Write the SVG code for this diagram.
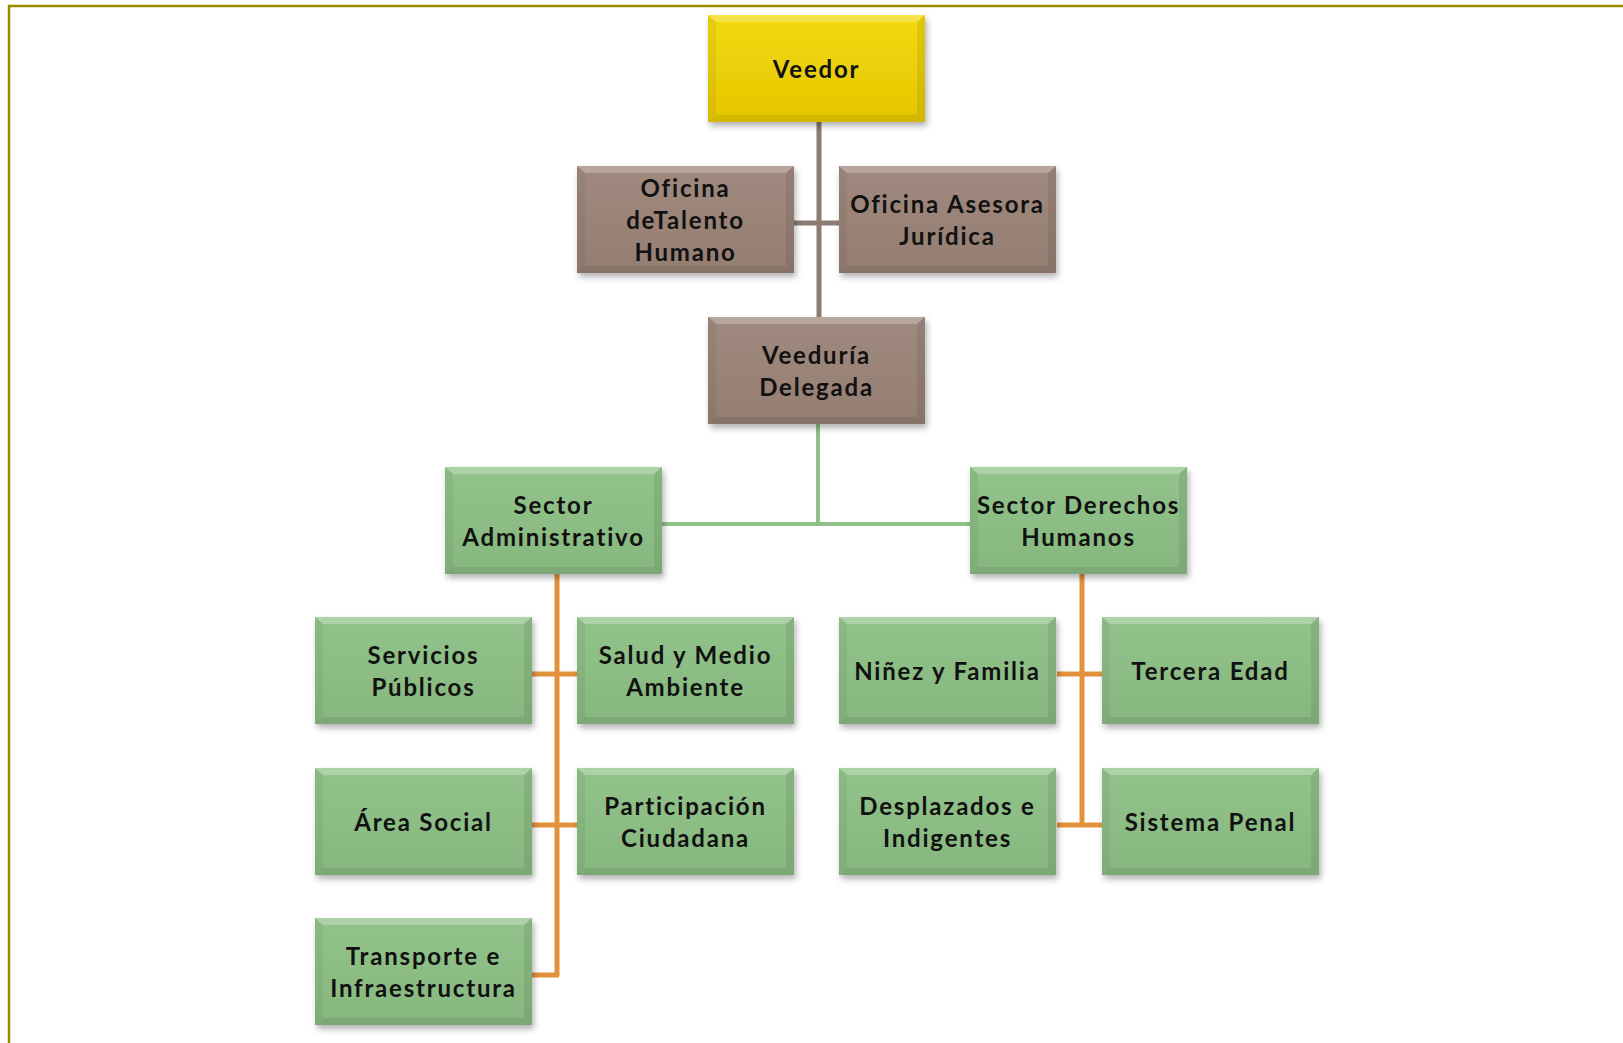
<svg xmlns="http://www.w3.org/2000/svg" width="1623" height="1043" viewBox="0 0 1623 1043">
<style>
.t{font-family:Lato,"Liberation Sans",sans-serif;font-weight:bold;font-size:24px;fill:#111;text-anchor:middle;letter-spacing:1.8px}
.frame{stroke:#9a8a00;stroke-width:2.5;fill:none}
.cb{stroke:#8c7b72;stroke-width:5;fill:none}
.cg{stroke:#8fc088;stroke-width:4;fill:none}
.co{stroke:#e3923c;stroke-width:5;fill:none}
.hi{fill:#ffffff;opacity:0.25}
.lo{fill:#000000;opacity:0.08}
.sd{fill:#000000;opacity:0.05}
</style>
<defs>
<linearGradient id="gy" x1="0" y1="0" x2="0" y2="1"><stop offset="0" stop-color="#f2da10"/><stop offset="1" stop-color="#e4c600"/></linearGradient>
<linearGradient id="gb" x1="0" y1="0" x2="0" y2="1"><stop offset="0" stop-color="#a08a7f"/><stop offset="1" stop-color="#947d71"/></linearGradient>
<linearGradient id="gg" x1="0" y1="0" x2="0" y2="1"><stop offset="0" stop-color="#92c38a"/><stop offset="1" stop-color="#86b77e"/></linearGradient>
<filter id="sh" x="-10%" y="-10%" width="125%" height="135%"><feDropShadow dx="2" dy="4" stdDeviation="3" flood-color="#000" flood-opacity="0.3"/></filter>
<g id="bev">
<polygon class="hi" points="0,0 217,0 209,7 8,7"/>
<polygon class="sd" points="0,0 8,7 8,100 0,107"/>
<polygon class="lo" points="217,0 217,107 209,100 209,7"/>
<polygon class="lo" points="0,107 8,100 209,100 217,107"/>
</g>
</defs>
<rect width="1623" height="1043" fill="#ffffff"/>
<path class="frame" d="M9 1043 V6 H1623"/>
<g id="connectors">
<path class="cb" d="M819 122 V317 M794 223 H839"/>
<path class="cg" d="M818 423 V524 M662 524 H970"/>
<path class="co" d="M557 574 V976 M532 674 H577 M532 825 H577 M532 975 H559"/>
<path class="co" d="M1082 574 V826 M1057 674 H1102 M1057 825 H1102"/>
</g>
<g id="veedor" transform="translate(708,15)"><rect width="217" height="107" fill="url(#gy)" filter="url(#sh)"/><use href="#bev"/><text class="t" x="108.5" y="63">Veedor</text></g>
<g id="oficina-talento" transform="translate(577,166)"><rect width="217" height="107" fill="url(#gb)" filter="url(#sh)"/><use href="#bev"/><text class="t" x="108.5" y="31">Oficina</text><text class="t" x="108.5" y="63">deTalento</text><text class="t" x="108.5" y="95">Humano</text></g>
<g id="oficina-juridica" transform="translate(839,166)"><rect width="217" height="107" fill="url(#gb)" filter="url(#sh)"/><use href="#bev"/><text class="t" x="108.5" y="47">Oficina Asesora</text><text class="t" x="108.5" y="79">Jurídica</text></g>
<g id="veeduria" transform="translate(708,317)"><rect width="217" height="107" fill="url(#gb)" filter="url(#sh)"/><use href="#bev"/><text class="t" x="108.5" y="47">Veeduría</text><text class="t" x="108.5" y="79">Delegada</text></g>
<g id="sector-admin" transform="translate(445,467)"><rect width="217" height="107" fill="url(#gg)" filter="url(#sh)"/><use href="#bev"/><text class="t" x="108.5" y="47">Sector</text><text class="t" x="108.5" y="79">Administrativo</text></g>
<g id="sector-ddhh" transform="translate(970,467)"><rect width="217" height="107" fill="url(#gg)" filter="url(#sh)"/><use href="#bev"/><text class="t" x="108.5" y="47">Sector Derechos</text><text class="t" x="108.5" y="79">Humanos</text></g>
<g id="servicios" transform="translate(315,617)"><rect width="217" height="107" fill="url(#gg)" filter="url(#sh)"/><use href="#bev"/><text class="t" x="108.5" y="47">Servicios</text><text class="t" x="108.5" y="79">Públicos</text></g>
<g id="salud" transform="translate(577,617)"><rect width="217" height="107" fill="url(#gg)" filter="url(#sh)"/><use href="#bev"/><text class="t" x="108.5" y="47">Salud y Medio</text><text class="t" x="108.5" y="79">Ambiente</text></g>
<g id="area-social" transform="translate(315,768)"><rect width="217" height="107" fill="url(#gg)" filter="url(#sh)"/><use href="#bev"/><text class="t" x="108.5" y="63">Área Social</text></g>
<g id="participacion" transform="translate(577,768)"><rect width="217" height="107" fill="url(#gg)" filter="url(#sh)"/><use href="#bev"/><text class="t" x="108.5" y="47">Participación</text><text class="t" x="108.5" y="79">Ciudadana</text></g>
<g id="transporte" transform="translate(315,918)"><rect width="217" height="107" fill="url(#gg)" filter="url(#sh)"/><use href="#bev"/><text class="t" x="108.5" y="47">Transporte e</text><text class="t" x="108.5" y="79">Infraestructura</text></g>
<g id="ninez" transform="translate(839,617)"><rect width="217" height="107" fill="url(#gg)" filter="url(#sh)"/><use href="#bev"/><text class="t" x="108.5" y="63">Niñez y Familia</text></g>
<g id="tercera-edad" transform="translate(1102,617)"><rect width="217" height="107" fill="url(#gg)" filter="url(#sh)"/><use href="#bev"/><text class="t" x="108.5" y="63">Tercera Edad</text></g>
<g id="desplazados" transform="translate(839,768)"><rect width="217" height="107" fill="url(#gg)" filter="url(#sh)"/><use href="#bev"/><text class="t" x="108.5" y="47">Desplazados e</text><text class="t" x="108.5" y="79">Indigentes</text></g>
<g id="sistema-penal" transform="translate(1102,768)"><rect width="217" height="107" fill="url(#gg)" filter="url(#sh)"/><use href="#bev"/><text class="t" x="108.5" y="63">Sistema Penal</text></g>
</svg>
